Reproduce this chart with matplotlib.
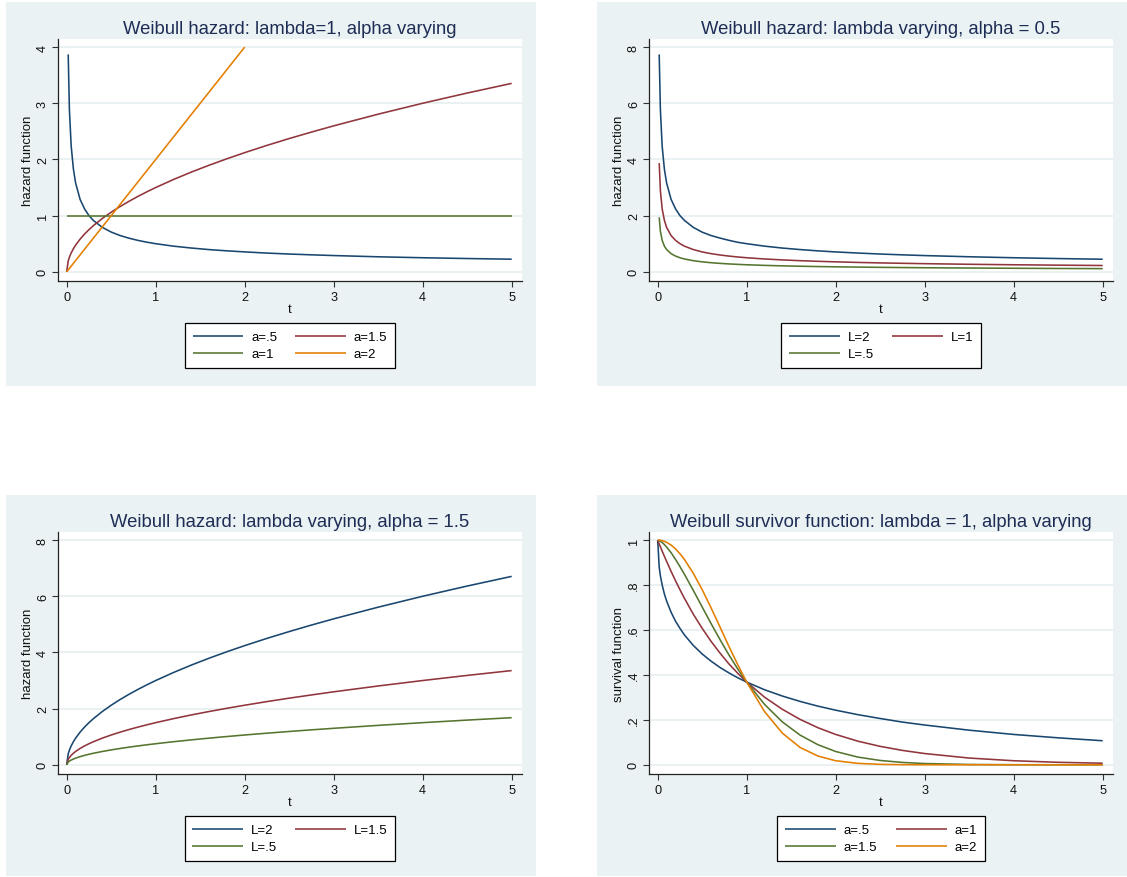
import numpy as np
import matplotlib
matplotlib.use('Agg')
import matplotlib.pyplot as plt
from matplotlib.patches import Rectangle

nan = np.nan

# ---------------- data ----------------
t = [0, 0.0167, 0.03, 0.05, 0.075, 0.1, 0.15, 0.2, 0.25, 0.3, 0.4, 0.5, 0.6, 0.7, 0.8, 0.9,
     1.0, 1.2, 1.4, 1.6, 1.8, 2.0, 2.25, 2.5, 2.75, 3.0, 3.5, 4.0, 4.5, 5.0]

# Panel 1: Weibull hazard, lambda = 1, alpha varying
h1_a05 = [nan, 3.87, 2.89, 2.24, 1.83, 1.58, 1.29, 1.12, 1.00, 0.913, 0.791, 0.707, 0.645, 0.598, 0.559, 0.527,
          0.500, 0.456, 0.423, 0.395, 0.373, 0.354, 0.333, 0.316, 0.302, 0.289, 0.267, 0.250, 0.236, 0.224]
h1_a1 = [1.0, 1.0, 1.0, 1.0, 1.0, 1.0, 1.0, 1.0, 1.0, 1.0, 1.0, 1.0, 1.0, 1.0, 1.0, 1.0,
         1.0, 1.0, 1.0, 1.0, 1.0, 1.0, 1.0, 1.0, 1.0, 1.0, 1.0, 1.0, 1.0, 1.0]
h1_a15 = [0, 0.194, 0.260, 0.335, 0.411, 0.474, 0.581, 0.671, 0.750, 0.822, 0.949, 1.061, 1.162, 1.255, 1.342, 1.423,
          1.500, 1.643, 1.775, 1.897, 2.012, 2.121, 2.250, 2.372, 2.487, 2.598, 2.806, 3.000, 3.182, 3.354]
h1_a2 = [0, 0.033, 0.06, 0.10, 0.15, 0.20, 0.30, 0.40, 0.50, 0.60, 0.80, 1.00, 1.20, 1.40, 1.60, 1.80,
         2.00, 2.40, 2.80, 3.20, 3.60, 4.00, nan, nan, nan, nan, nan, nan, nan, nan]

# Panel 2: Weibull hazard, lambda varying, alpha = 0.5
h2_L2 = [nan, 7.74, 5.77, 4.47, 3.65, 3.16, 2.58, 2.24, 2.00, 1.83, 1.58, 1.41, 1.29, 1.20, 1.12, 1.05,
         1.00, 0.913, 0.845, 0.791, 0.745, 0.707, 0.667, 0.632, 0.603, 0.577, 0.535, 0.500, 0.471, 0.447]
h2_L1 = [nan, 3.87, 2.89, 2.24, 1.83, 1.58, 1.29, 1.12, 1.00, 0.913, 0.791, 0.707, 0.645, 0.598, 0.559, 0.527,
         0.500, 0.456, 0.423, 0.395, 0.373, 0.354, 0.333, 0.316, 0.302, 0.289, 0.267, 0.250, 0.236, 0.224]
h2_L05 = [nan, 1.94, 1.44, 1.12, 0.913, 0.791, 0.645, 0.559, 0.500, 0.456, 0.395, 0.354, 0.323, 0.299, 0.280, 0.264,
          0.250, 0.228, 0.211, 0.198, 0.186, 0.177, 0.167, 0.158, 0.151, 0.144, 0.134, 0.125, 0.118, 0.112]

# Panel 3: Weibull hazard, lambda varying, alpha = 1.5
h3_L2 = [0, 0.388, 0.520, 0.671, 0.822, 0.949, 1.162, 1.342, 1.500, 1.643, 1.897, 2.121, 2.324, 2.510, 2.683, 2.846,
         3.000, 3.286, 3.550, 3.795, 4.025, 4.243, 4.500, 4.743, 4.975, 5.196, 5.612, 6.000, 6.364, 6.708]
h3_L15 = [0, 0.194, 0.260, 0.335, 0.411, 0.474, 0.581, 0.671, 0.750, 0.822, 0.949, 1.061, 1.162, 1.255, 1.342, 1.423,
          1.500, 1.643, 1.775, 1.897, 2.012, 2.121, 2.250, 2.372, 2.487, 2.598, 2.806, 3.000, 3.182, 3.354]
h3_L05 = [0, 0.097, 0.130, 0.168, 0.205, 0.237, 0.290, 0.335, 0.375, 0.411, 0.474, 0.530, 0.581, 0.628, 0.671, 0.712,
          0.750, 0.822, 0.887, 0.949, 1.006, 1.061, 1.125, 1.186, 1.244, 1.299, 1.403, 1.500, 1.591, 1.677]

# Panel 4: Weibull survivor function, lambda = 1, alpha varying
s4_a05 = [1.0, 0.879, 0.841, 0.800, 0.760, 0.729, 0.679, 0.639, 0.607, 0.578, 0.531, 0.493, 0.461, 0.433, 0.409, 0.387,
          0.368, 0.334, 0.306, 0.282, 0.261, 0.243, 0.223, 0.206, 0.190, 0.177, 0.154, 0.135, 0.120, 0.107]
s4_a1 = [1.0, 0.983, 0.970, 0.951, 0.928, 0.905, 0.861, 0.819, 0.779, 0.741, 0.670, 0.607, 0.549, 0.497, 0.449, 0.407,
         0.368, 0.301, 0.247, 0.202, 0.165, 0.135, 0.105, 0.082, 0.064, 0.050, 0.030, 0.018, 0.011, 0.007]
s4_a15 = [1.0, 0.998, 0.995, 0.989, 0.980, 0.969, 0.944, 0.914, 0.882, 0.848, 0.776, 0.702, 0.628, 0.557, 0.489, 0.426,
          0.368, 0.269, 0.191, 0.132, 0.0894, 0.0591, 0.0342, 0.0192, 0.0105, 0.0055, 0.0014, 0.0003, 0.0001, 0.0]
s4_a2 = [1.0, 0.9997, 0.9991, 0.9975, 0.9944, 0.990, 0.978, 0.961, 0.939, 0.914, 0.852, 0.779, 0.698, 0.613, 0.527, 0.445,
         0.368, 0.237, 0.141, 0.077, 0.039, 0.018, 0.0063, 0.0019, 0.0005, 0.0001, 0.0, 0.0, 0.0, 0.0]

titles = ["Weibull hazard: lambda=1, alpha varying",
          "Weibull hazard: lambda varying, alpha = 0.5",
          "Weibull hazard: lambda varying, alpha = 1.5",
          "Weibull survivor function: lambda = 1, alpha varying"]
ylabels = ["hazard function", "hazard function", "hazard function", "survival function"]
xticks = [0, 1, 2, 3, 4, 5]
yticks_list = [[0, 1, 2, 3, 4], [0, 2, 4, 6, 8], [0, 2, 4, 6, 8], [0, 0.2, 0.4, 0.6, 0.8, 1.0]]
ytick_labels = [["0", "1", "2", "3", "4"], ["0", "2", "4", "6", "8"], ["0", "2", "4", "6", "8"],
                ["0", ".2", ".4", ".6", ".8", "1"]]

# ---------------- style ----------------
plt.rcParams['font.family'] = ['Liberation Sans', 'DejaVu Sans']
NAVY = '#1A476F'
MAROON = '#90353B'
GREEN = '#55752F'
ORANGE = '#E37E00'
BG = '#EAF2F3'
GRID = '#E4EDF0'
TITLE_C = '#1E2D55'
FS_SMALL = 9.5
FS_TICK = 9.2
FS_TITLE = 13.3

W, H = 1127, 878
fig = plt.figure(figsize=(W / 100, H / 100), dpi=100, facecolor='white')


def frac_rect(x0, y0, x1, y1):
    return [x0 / W, 1 - y1 / H, (x1 - x0) / W, (y1 - y0) / H]


offsets = [(0, 0), (591, 0), (0, 493), (591, 493)]

series = [
    # (values, color, label) in legend order (column-major for ncol=2)
    [(h1_a05, NAVY, "a=.5"), (h1_a1, GREEN, "a=1"), (h1_a15, MAROON, "a=1.5"), (h1_a2, ORANGE, "a=2")],
    [(h2_L2, NAVY, "L=2"), (h2_L05, GREEN, "L=.5"), (h2_L1, MAROON, "L=1")],
    [(h3_L2, NAVY, "L=2"), (h3_L05, GREEN, "L=.5"), (h3_L15, MAROON, "L=1.5")],
    [(s4_a05, NAVY, "a=.5"), (s4_a15, GREEN, "a=1.5"), (s4_a1, MAROON, "a=1"), (s4_a2, ORANGE, "a=2")],
]
draw_order = [[0, 2, 1, 3], [0, 2, 1], [0, 2, 1], [0, 2, 1, 3]]

for i, (dx, dy) in enumerate(offsets):
    # panel background
    bx0, by0 = 6 + dx, 3.3 + dy
    bx1, by1 = min(536 + dx, W), min(386.7 + dy, 877)
    fig.add_artist(Rectangle((bx0 / W, 1 - by1 / H), (bx1 - bx0) / W, (by1 - by0) / H,
                             transform=fig.transFigure, facecolor=BG, edgecolor='none', zorder=-10))

    ax = fig.add_axes(frac_rect(58 + dx, 40 + dy, 522 + dx, 282 + dy))
    ax.set_facecolor('white')

    yt = yticks_list[i]
    ymax = yt[-1]
    ax.set_xlim(-0.098, 5.116)
    ax.set_ylim(-0.041 * ymax, 1.036 * ymax)

    handles = {}
    for k in draw_order[i]:
        vals, col, lab = series[i][k]
        ln, = ax.plot(t, vals, color=col, lw=1.15, label=lab, solid_capstyle='butt', zorder=3)
        handles[k] = ln

    ax.set_xticks(xticks)
    ax.set_xticklabels([str(v) for v in xticks])
    ax.set_yticks(yt)
    ax.set_yticklabels(ytick_labels[i])
    ax.grid(axis='y', color=GRID, lw=1.1, zorder=0)
    ax.set_axisbelow(True)

    for s in ['top', 'right']:
        ax.spines[s].set_visible(False)
    for s in ['left', 'bottom']:
        ax.spines[s].set_color('#222222')
        ax.spines[s].set_linewidth(0.9)

    ax.tick_params(axis='both', direction='out', length=4.2, width=0.8, color='#333333',
                   labelsize=FS_TICK, labelcolor='#111111')
    ax.tick_params(axis='x', pad=3.0)
    ax.tick_params(axis='y', pad=2.3, labelrotation=90)
    for lbl in ax.get_yticklabels():
        lbl.set_va('center')

    ax.set_title(titles[i], fontsize=FS_TITLE, color=TITLE_C, pad=4.3)

    # axis labels
    fig.text((28 + dx) / W, 1 - (161 + dy) / H, ylabels[i], rotation=90, ha='center', va='center',
             fontsize=FS_SMALL, color='#111111')
    fig.text((289.5 + dx) / W, 1 - (310.5 + dy) / H, 't', ha='center', va='center',
             fontsize=FS_SMALL, color='#111111')

    hl = [handles[k] for k in range(len(series[i]))]
    leg = ax.legend(hl, [h.get_label() for h in hl], loc='upper center',
                    bbox_to_anchor=(0.5, -42 / 242), ncol=2, fontsize=FS_SMALL,
                    handlelength=3.85, handletextpad=0.58, columnspacing=1.4,
                    borderpad=0.6, labelspacing=0.36, borderaxespad=0,
                    fancybox=False, framealpha=1, edgecolor='black', frameon=True)
    leg.get_frame().set_linewidth(0.9)

fig.savefig('out.png', dpi=100, facecolor='white')
